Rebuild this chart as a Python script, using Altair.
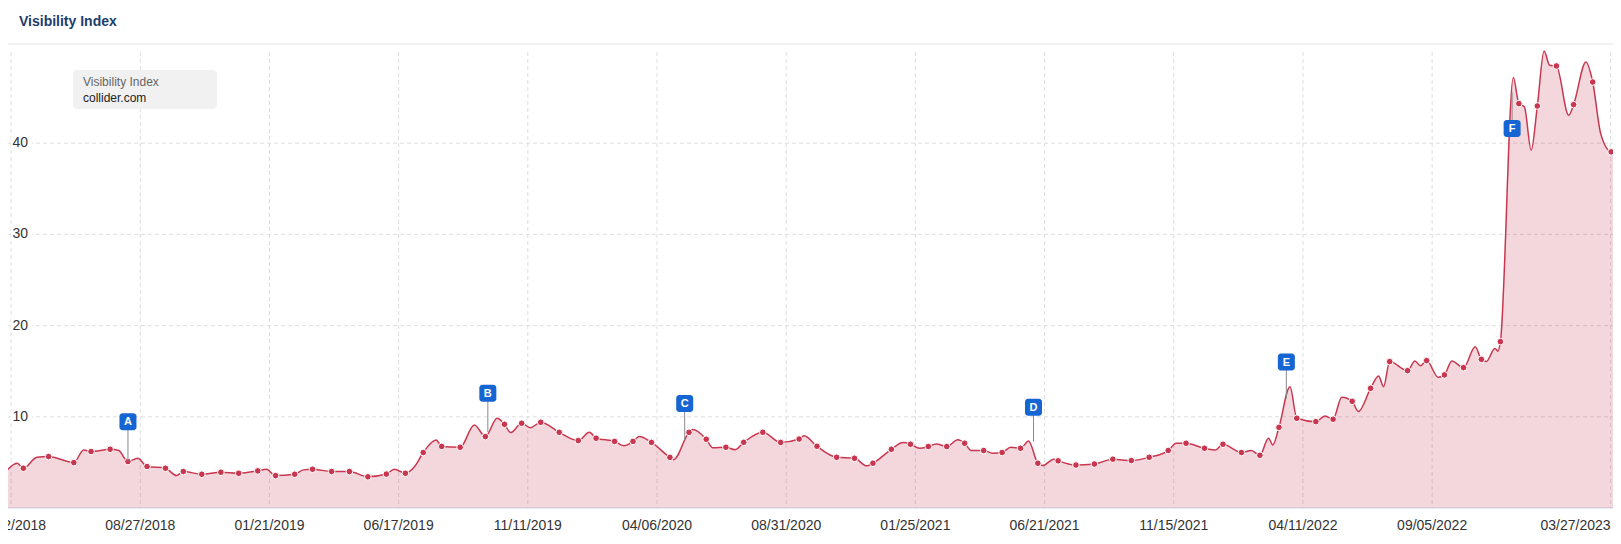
import altair as alt
import pandas as pd

# ---------------- data ----------------
start = pd.Timestamp("2018-03-26")   # weekly series, week 0

weeks = [0, 2.0, 3.0, 5.2, 7.1, 11.2, 12.8, 14.0, 17.1, 18.5, 20.0, 21.6, 23.1, 26.1, 27.9,
         29.0, 32.0, 35.1, 38.0, 41.1, 42.5, 44.0, 47.1, 48.5, 50.0, 53.1, 56.0, 59.0, 62.0,
         63.3, 65.1, 66.6, 68.0, 70.1, 71.0, 74.0, 76.3, 78.1, 80.0, 81.2, 82.2, 84.0, 85.4,
         87.1, 90.1, 93.2, 95.0, 96.1, 99.1, 100.6, 102.1, 103.1, 105.1, 108.1, 108.7, 111.2,
         111.8, 114.0, 115.1, 117.2, 118.7, 120.1, 123.2, 126.1, 129.1, 129.9, 132.0, 135.2,
         138.1, 140.1, 141.1, 144.1, 146.0, 147.2, 148.7, 150.1, 151.4, 153.1, 154.9, 156.0,
         157.1, 159.1, 160.6, 162.1, 163.5, 165.1, 166.4, 167.9, 168.7, 170.5, 171.2, 174.1,
         177.1, 180.1, 183.1, 186.0, 189.1, 190.4, 192.0, 195.0, 196.8, 198.0, 201.0, 202.6,
         204.0, 205.4, 206.1, 207.1, 208.9, 210.0, 213.1, 214.6, 215.9, 217.3, 219.0, 220.0,
         222.0, 223.3, 224.1, 225.1, 228.0, 229.2, 230.1, 231.1, 233.0, 234.0, 235.2, 237.1,
         239.0, 240.0, 240.8, 242.2, 242.7, 243.1, 245.2, 246.1, 247.0, 248.1, 249.1, 250.2,
         251.1, 252.2, 254.2, 255.0, 257.0, 258.1, 259.4, 261.1, 262.1]

values = [3.89, 4.9, 4.36, 5.56, 5.64, 4.98, 6.37, 6.19, 6.44, 6.3, 5.09, 5.45, 4.55, 4.36, 3.56,
          4.0, 3.7, 3.92, 3.81, 4.07, 4.25, 3.55, 3.7, 4.18, 4.25, 4.0, 4.0, 3.42, 3.72,
          4.25, 3.81, 4.55, 6.08, 7.45, 6.75, 6.66, 9.11, 7.83, 9.84, 9.18, 8.27, 9.29, 8.8,
          9.4, 8.3, 7.39, 8.3, 7.65, 7.3, 6.83, 7.3, 7.83, 7.19, 5.55, 5.3, 8.3,
          8.6, 7.54, 6.6, 6.66, 6.4, 7.2, 8.3, 7.19, 7.56, 7.92, 6.77, 5.56,
          5.45, 4.62, 4.91, 6.44, 7.17, 6.99, 6.55, 6.74, 7.03, 6.74, 7.47, 7.1,
          6.3, 6.3, 6.0, 6.08, 6.66, 6.55, 7.36, 4.91, 4.65, 5.35, 5.17, 4.71,
          4.82, 5.35, 5.2, 5.56, 6.3, 7.1, 7.1, 6.55, 6.37, 6.99, 6.08, 6.3,
          5.78, 7.65, 6.92, 8.85, 13.3, 9.84, 9.47, 10.1, 9.73, 12.14, 11.7, 10.57,
          13.12, 14.48, 13.3, 16.05, 15.06, 16.12, 15.6, 16.16, 14.33, 14.59, 16.12, 15.39,
          17.69, 16.3, 16.05, 17.5, 17.2, 18.24, 47.2, 44.34, 43.97, 39.23, 44.08, 50.1,
          48.54, 48.47, 43.06, 44.23, 48.9, 46.71, 41.05, 39.05, 39.0]

dots = [1, 0, 1, 0, 1, 1, 0, 1, 1, 0, 1, 0, 1, 1, 0,
        1, 1, 1, 1, 1, 0, 1, 1, 0, 1, 1, 1, 1, 1,
        0, 1, 0, 1, 0, 1, 1, 0, 1, 0, 1, 0, 1, 0,
        1, 1, 1, 0, 1, 1, 0, 1, 0, 1, 1, 0, 1,
        0, 1, 0, 1, 0, 1, 1, 1, 1, 0, 1, 1,
        1, 0, 1, 1, 0, 1, 0, 1, 0, 1, 0, 1,
        0, 1, 0, 1, 0, 1, 0, 1, 0, 0, 1, 1,
        1, 1, 1, 1, 1, 0, 1, 1, 0, 1, 1, 0,
        1, 0, 0, 1, 0, 1, 1, 0, 1, 0, 1, 0,
        1, 0, 0, 1, 1, 0, 0, 1, 0, 1, 0, 1,
        0, 1, 0, 0, 0, 1, 0, 1, 0, 0, 1, 0,
        0, 1, 0, 1, 0, 1, 0, 1, 0]

tick_weeks = [1, 22, 43, 64, 85, 106, 127, 148, 169, 190, 211, 232, 261]
y_ticks = [10, 20, 30, 40]

flag_letters = ["A", "B", "C", "D", "E", "F"]
flag_weeks = [20.0, 78.5, 110.5, 167.2, 208.3, 245.0]
flag_anchor = [5.09, 8.3, 7.47, 7.28, 12.0, 45.6]
flag_box = [9.47, 12.57, 11.47, 11.04, 16.0, 41.6]

title_text = "Visibility Index"
legend_line1 = "Visibility Index"
legend_line2 = "collider.com"

# ---------------- styling ----------------
LINE = "#c8374f"
FLAG = "#1565d2"
FONT = "Arial, Liberation Sans, sans-serif"
GRID = "#dedede"
W, H = 1605, 456


def wdate(w):
    return start + pd.Timedelta(days=w * 7)


def dt(ts):
    return alt.DateTime(year=ts.year, month=ts.month, date=ts.day,
                        hours=ts.hour, minutes=ts.minute)


df = pd.DataFrame({"date": [wdate(w) for w in weeks], "value": values, "dot": dots})
df_dots = df[df["dot"] == 1]
df_flags = pd.DataFrame({
    "date": [wdate(w) for w in flag_weeks],
    "value": flag_anchor,
    "box": flag_box,
    "letter": flag_letters,
})
tick_dates = [wdate(w) for w in tick_weeks]
df_ticks = pd.DataFrame({"date": tick_dates, "label": [d.strftime("%m/%d/%Y") for d in tick_dates]})
df_ticks_main = df_ticks.iloc[:-1]
df_ticks_last = df_ticks.iloc[-1:]
df_y = pd.DataFrame({"value": y_ticks, "label": [str(t) for t in y_ticks]})
one = pd.DataFrame({"a": [0]})

xscale = alt.Scale(domain=[dt(wdate(0.5)), dt(wdate(261.4))])
yscale = alt.Scale(domain=[0, 50], nice=False, zero=True)

Xn = alt.X("date:T", scale=xscale, axis=None)
Yn = alt.Y("value:Q", scale=yscale, axis=None)

# horizontal grid lines
ygrid = alt.Chart(df_y).mark_rule(color=GRID, strokeDash=[4, 3], strokeWidth=1).encode(
    y=Yn, x=alt.value(0), x2=alt.value(W))
# vertical grid lines at the date ticks
xgrid = alt.Chart(df_ticks).mark_rule(color=GRID, strokeDash=[4, 3], strokeWidth=1).encode(
    x=Xn, y=alt.value(0), y2=alt.value(H))
# bottom axis line
baseline = alt.Chart(one).mark_rule(color="#ccd6eb", strokeWidth=1).encode(
    x=alt.value(0), x2=alt.value(W), y=alt.value(H))

xlab = alt.Chart(df_ticks_main).mark_text(
    align="center", baseline="alphabetic", font=FONT, fontSize=14, color="#333333"
).encode(x=Xn, y=alt.value(H + 22), text="label:N")
xlab_last = alt.Chart(df_ticks_last).mark_text(
    align="right", baseline="alphabetic", font=FONT, fontSize=14, color="#333333"
).encode(x=Xn, y=alt.value(H + 22), text="label:N")

area = alt.Chart(df).mark_area(interpolate="monotone", color=LINE, opacity=0.2).encode(x=Xn, y=Yn)
line = alt.Chart(df).mark_line(interpolate="monotone", color=LINE, strokeWidth=1.5).encode(x=Xn, y=Yn)
points = alt.Chart(df_dots).mark_circle(
    color=LINE, opacity=1, size=44, stroke="white", strokeWidth=1
).encode(x=Xn, y=Yn)

ylab_bg = alt.Chart(df_y).mark_rect(color="white", height=14).encode(
    x=alt.value(3), x2=alt.value(24), y=Yn)
ylab = alt.Chart(df_y).mark_text(
    align="right", baseline="middle", font=FONT, fontSize=14, color="#333333"
).encode(x=alt.value(20), y=Yn, text="label:N")

connectors = alt.Chart(df_flags).mark_rule(color="#8a8a8a", strokeWidth=1).encode(
    x=Xn, y=Yn, y2="box:Q")
flag_rects = alt.Chart(df_flags).mark_rect(
    color=FLAG, width=17, height=17, cornerRadius=3
).encode(x=Xn, y=alt.Y("box:Q", scale=yscale, axis=None))
flag_text = alt.Chart(df_flags).mark_text(
    color="white", font=FONT, fontSize=11, fontWeight="bold", baseline="middle", dy=0.5
).encode(x=Xn, y=alt.Y("box:Q", scale=yscale, axis=None), text="letter:N")

legend_box = alt.Chart(one).mark_rect(color="#efefef", opacity=0.9, cornerRadius=4).encode(
    x=alt.value(65), x2=alt.value(209), y=alt.value(18), y2=alt.value(57))
legend_t1 = alt.Chart(one).mark_text(
    align="left", baseline="alphabetic", font=FONT, fontSize=12, color="#666666", text=legend_line1
).encode(x=alt.value(75), y=alt.value(34))
legend_t2 = alt.Chart(one).mark_text(
    align="left", baseline="alphabetic", font=FONT, fontSize=12, color="#222222", text=legend_line2
).encode(x=alt.value(75), y=alt.value(49.5))

title = alt.Chart(one).mark_text(
    align="left", baseline="alphabetic", font=FONT, fontSize=14, fontWeight="bold",
    color="#1d3d6e", text=title_text
).encode(x=alt.value(11), y=alt.value(-26))
separator = alt.Chart(one).mark_rule(color="#e6e6e6", strokeWidth=1).encode(
    x=alt.value(0), x2=alt.value(W), y=alt.value(-8))

chart = alt.layer(
    ygrid, xgrid, baseline, xlab, xlab_last,
    area, line, points, ylab_bg, ylab, connectors, flag_rects, flag_text,
    legend_box, legend_t1, legend_t2, title, separator
).properties(
    width=W,
    height=H,
    padding={"left": 0, "top": 44, "right": 0, "bottom": 24},
    autosize=alt.AutoSizeParams(type="none"),
    background="white",
).configure_view(stroke=None)

chart.save("out.html", embed_options={"renderer": "svg", "actions": False})
